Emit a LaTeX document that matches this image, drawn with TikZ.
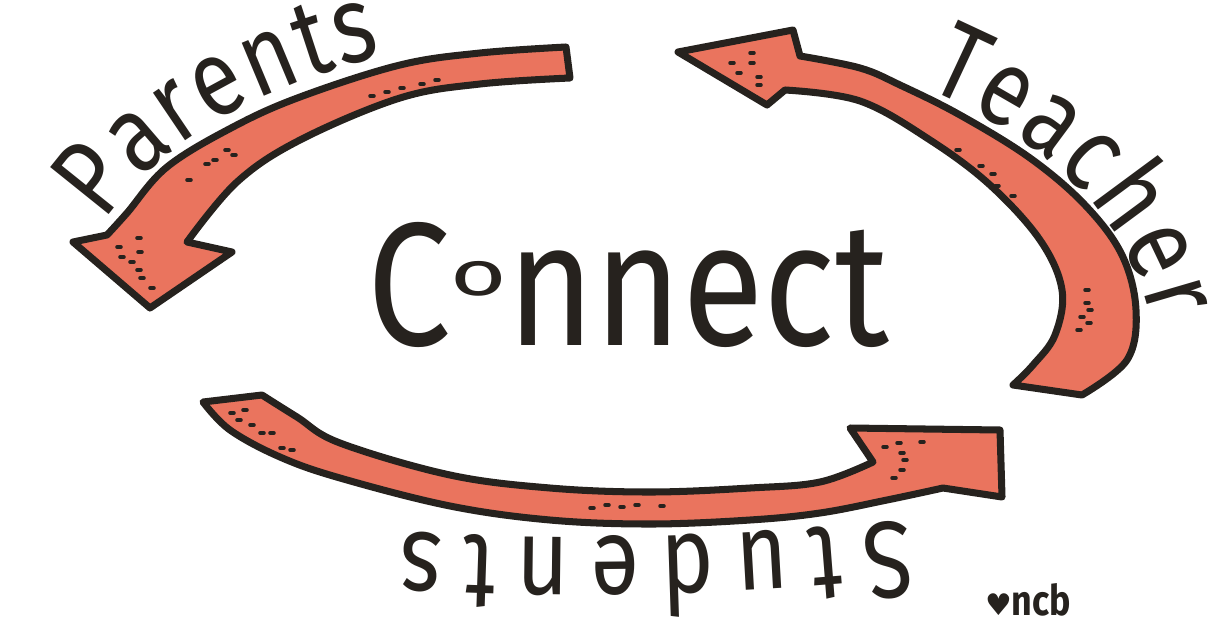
\documentclass[tikz,border=0pt]{standalone}
\usepackage{fontspec}
\usepackage{graphicx}
\usetikzlibrary{decorations.text}
\newfontfamily\handfont[FakeStretch=0.85]{Fira Sans}
\newfontfamily\labelface[FakeStretch=0.82]{Fira Sans}
\newfontfamily\symfont{DejaVu Sans}
\definecolor{arrowred}{RGB}{234,116,94}
\definecolor{inkdark}{RGB}{38,34,30}
\newcommand\labelfont{\labelface\fontsize{62pt}{68pt}\selectfont}

\begin{document}
\begin{tikzpicture}[x=0.02cm, y=-0.02cm,
	arrowbody/.style={fill=arrowred, draw=inkdark, line width=4pt, line join=round},
	speck/.style={draw=inkdark, line width=2pt, line cap=round},
	curvelabel/.style={decorate, decoration={text along path, text={|\labelfont|#1}, text color=inkdark, text align={fit to path}}}]
	\useasboundingbox (0,0) rectangle (1219,622);

	% parents arrow, tail top right, head bottom left
	\filldraw[arrowbody] plot[smooth, tension=0.6] coordinates {(566,47) (480,53) (400,65) (300,97) (233,127) (167,167) (127,213) (107,235)}
		-- (73,242) -- (150,308) -- (232,252) -- (187,242)
		-- plot[smooth, tension=0.6] coordinates {(187,242) (237,182) (300,140) (400,98) (480,84) (570,78)} -- cycle;
	% teacher arrow
	\filldraw[arrowbody] plot[smooth, tension=0.6] coordinates {(1082,395) (1127,360) (1136,310) (1122,255) (1085,205) (1030,158) (960,115) (900,85) (860,68) (800,56)}
		-- (793,30) -- (678,52) -- (767,105) -- (785,90)
		-- plot[smooth, tension=0.6] coordinates {(785,90) (860,101) (930,140) (990,185) (1040,240) (1062,290) (1055,335) (1033,365) (1013,385)} -- cycle;
	% students arrow
	\filldraw[arrowbody] plot[smooth, tension=0.6] coordinates {(203,402) (230,430) (280,457) (340,478) (450,506) (550,520) (650,524) (750,520) (820,513) (887,500) (943,488)}
		-- (1002,497) -- (1000,430) -- (850,428) -- (873,462)
		-- plot[smooth, tension=0.6] coordinates {(873,462) (820,482) (750,488) (650,492) (550,488) (450,475) (340,443) (297,417) (262,395)} -- cycle;

	\foreach \p in {(370,96),(385,92),(400,88),(420,84),(435,80),(187,180),(205,164),(213,160),(225,150),(232,155),
		(117,247),(137,238),(120,257),(130,262),(137,270),(140,278),(150,288),(138,252),
		(730,63),(750,53),(750,63),(737,73),(757,77),(757,85),(956,150),(979,166),(991,174),(995,186),(1011,196),
		(1085,290),(1085,303),(1088,310),(1080,317),(1087,323),(1077,330),
		(230,413),(243,410),(237,420),(250,425),(260,433),(270,433),(280,448),(290,450),
		(590,508),(605,505),(620,507),(635,505),(660,506),
		(883,447),(897,443),(920,442),(900,453),(903,460),(900,470),(892,478)}
		\draw[speck] \p -- ++(4,0);

	\path[curvelabel=Parents] (105,222) .. controls (150,150) and (255,85) .. (382,57);
	\path[curvelabel=Teacher] (925,88) .. controls (1035,135) and (1125,205) .. (1152,322);
	\path[curvelabel=Students] (908,520) .. controls (750,538) and (560,542) .. (402,532);

	\node[font=\handfont\fontsize{100pt}{100pt}\selectfont, text=inkdark, anchor=base, inner sep=0pt] (connect) at (628,345)
		{C\raisebox{0.28em}{\fontsize{36pt}{36pt}\selectfont\scalebox{1.8}[1]{o}}nnect};
	\node[font=\handfont\bfseries\fontsize{24pt}{24pt}\selectfont, text=inkdark, anchor=base, inner sep=0pt] (sign) at (1028,615)
		{{\symfont\fontsize{17pt}{17pt}\selectfont ♥}ncb};
\end{tikzpicture}
\end{document}
